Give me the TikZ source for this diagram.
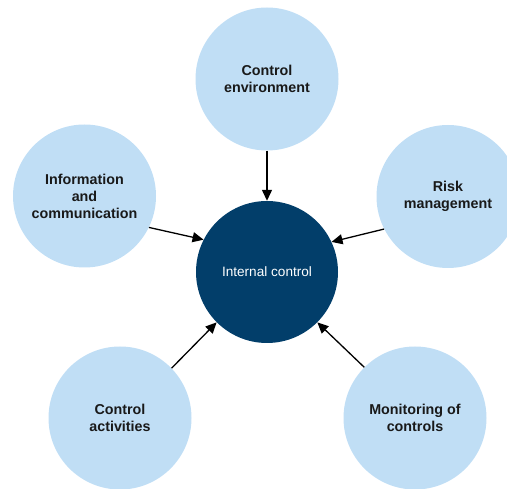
\documentclass[tikz,border=0pt]{standalone}
\usepackage{fontspec}
\setmainfont{Liberation Sans}
\usetikzlibrary{arrows.meta}
\definecolor{lightblue}{RGB}{192,222,245}
\definecolor{navy}{RGB}{2,62,106}
\begin{document}
\begin{tikzpicture}[x=1pt,y=-1pt,
  outer/.style={circle,fill=lightblue,minimum size=143pt,inner sep=0pt,align=center,
    font=\fontsize{14.3}{17}\selectfont\bfseries,text=black!90},
  inner/.style={circle,fill=navy,minimum size=142pt,inner sep=0pt,align=center,
    font=\fontsize{13.6}{17}\selectfont,text=white},
  link/.style={draw=black,line width=1.3pt,-{Triangle[length=11pt,width=10pt]}}]
\useasboundingbox (0,0) rectangle (507,489);
\node[inner] (C) at (267,272) {Internal control};
\node[outer] (T) at (267,79) {Control\\environment};
\node[outer] (L) at (84.5,196) {Information\\and\\communication};
\node[outer] (R) at (448,196.5) {Risk\\management};
\node[outer] (BL) at (120,418) {Control\\activities};
\node[outer] (BR) at (415,418) {Monitoring of\\controls};
\draw[link] (T.-90) -- (C.90);
\draw[link] (L.-26) -- (C.153);
\draw[link] (R.-153) -- (C.25.5);
\draw[link] (BL.44.5) -- (C.225);
\draw[link] (BR.135.5) -- (C.-45);
\end{tikzpicture}
\end{document}
